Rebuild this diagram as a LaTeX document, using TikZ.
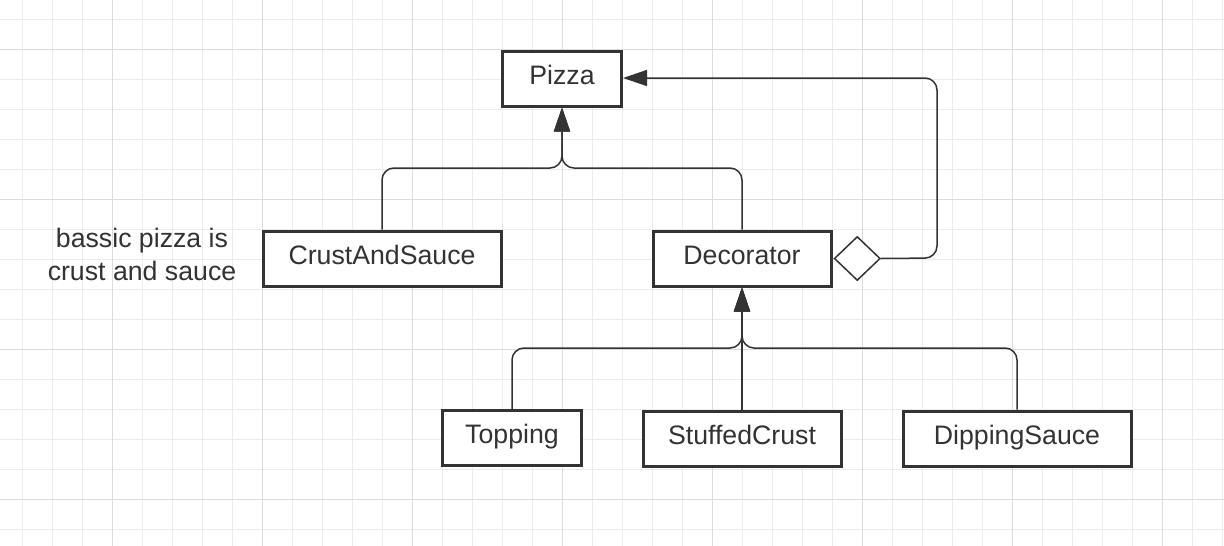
\documentclass[tikz,border=0pt]{standalone}
\usepackage{fontspec}
\setmainfont{Liberation Sans}
\usetikzlibrary{arrows.meta,shapes.geometric}
\definecolor{ink}{HTML}{333333}
\definecolor{gridminor}{HTML}{EBEBEB}
\definecolor{gridmajor}{HTML}{DCDCDC}
\begin{document}
\begin{tikzpicture}[x=1pt,y=-1pt,
  box/.style={draw=ink,line width=3pt,fill=white,inner sep=0pt,minimum height=55pt,
    font=\fontsize{26.7}{32}\selectfont,text=ink,text height=20pt,text depth=8.5pt},
  link/.style={draw=ink,line width=1.5pt,rounded corners=12pt},
  tip/.style={-{Triangle[length=24pt,width=16pt]}},
  lbl/.style={font=\fontsize{26.7}{33}\selectfont,text=ink,align=center,inner sep=0pt}]
\useasboundingbox (0,0) rectangle (1224,546);
\fill[white] (0,0) rectangle (1224,546);
% grid
\foreach \x in {22,52,...,1222} {\draw[gridminor,line width=1pt] (\x,0) -- (\x,546);}
\foreach \y in {19,49,...,545} {\draw[gridminor,line width=1pt] (0,\y) -- (1224,\y);}
\foreach \x in {112,262,...,1222} {\draw[gridmajor,line width=1pt] (\x,0) -- (\x,546);}
\foreach \y in {49,199,349,499} {\draw[gridmajor,line width=1pt] (0,\y) -- (1224,\y);}
% nodes
\node[box,minimum width=119pt] (pizza) at (562,78.5) {Pizza};
\node[box,minimum width=238pt] (crust) at (382,258.5) {CrustAndSauce};
\node[box,minimum width=178pt] (dec) at (742,258.5) {Decorator};
\node[box,minimum width=139pt] (top) at (512,438) {Topping};
\node[box,minimum width=198pt] (stuff) at (742,438.5) {StuffedCrust};
\node[box,minimum width=228pt] (dip) at (1017,438.5) {DippingSauce};
\node[lbl] (note) at (142,254.5) {bassic pizza is\\crust and sauce};
\node[draw=ink,line width=1.5pt,fill=white,diamond,aspect=1,inner sep=0pt,
  minimum width=46pt,minimum height=44pt,anchor=west] (dia) at ([xshift=1pt]dec.east) {};
% connectors
\coordinate (j1) at (562,168);
\coordinate (j2) at (742,348);
\draw[link,tip] (crust.north) -- (crust.north |- j1) -- (j1) -- (pizza.south);
\draw[link,tip] (dec.north) -- (dec.north |- j1) -- (j1) -- (pizza.south);
\draw[link,tip] (top.north) -- (top.north |- j2) -- (j2) -- (dec.south);
\draw[link,tip] (stuff.north) -- (dec.south);
\draw[link,tip] (dip.north) -- (dip.north |- j2) -- (j2) -- (dec.south);
\coordinate (c1) at (937,258);
\coordinate (c2) at (937,78);
\draw[link,tip] (dia.east) -- (c1) -- (c2) -- (pizza.east |- c2);
\end{tikzpicture}
\end{document}
